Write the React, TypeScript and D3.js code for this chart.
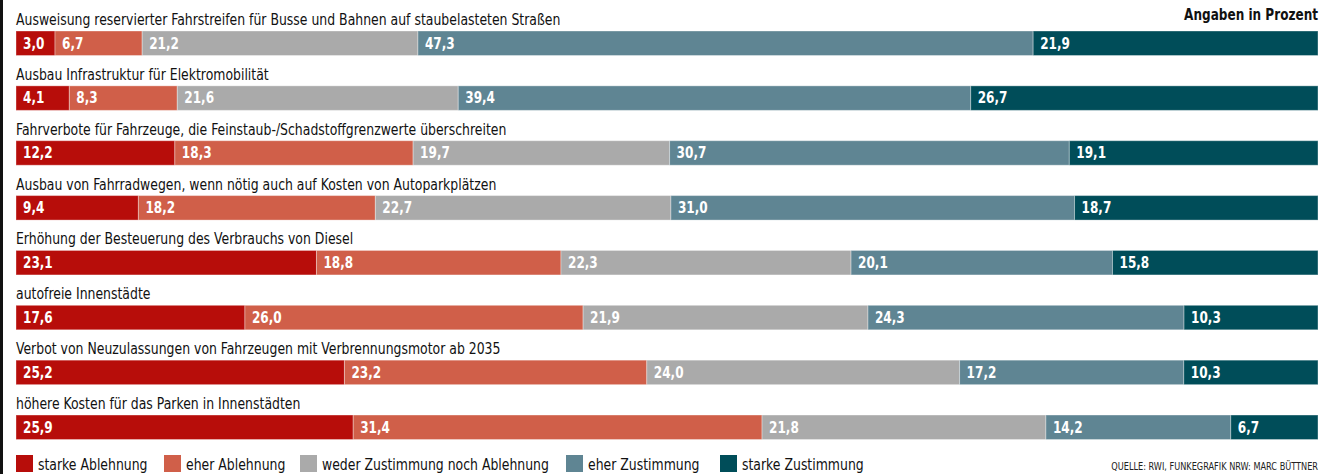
import React from "react";
import * as d3 from "d3";

const categories = [
  "Ausweisung reservierter Fahrstreifen für Busse und Bahnen auf staubelasteten Straßen",
  "Ausbau Infrastruktur für Elektromobilität",
  "Fahrverbote für Fahrzeuge, die Feinstaub-/Schadstoffgrenzwerte überschreiten",
  "Ausbau von Fahrradwegen, wenn nötig auch auf Kosten von Autoparkplätzen",
  "Erhöhung der Besteuerung des Verbrauchs von Diesel",
  "autofreie Innenstädte",
  "Verbot von Neuzulassungen von Fahrzeugen mit Verbrennungsmotor ab 2035",
  "höhere Kosten für das Parken in Innenstädten",
];

const seriesNames = [
  "starke Ablehnung",
  "eher Ablehnung",
  "weder Zustimmung noch Ablehnung",
  "eher Zustimmung",
  "starke Zustimmung",
];

const starkeAblehnung = [3.0, 4.1, 12.2, 9.4, 23.1, 17.6, 25.2, 25.9];
const eherAblehnung = [6.7, 8.3, 18.3, 18.2, 18.8, 26.0, 23.2, 31.4];
const weder = [21.2, 21.6, 19.7, 22.7, 22.3, 21.9, 24.0, 21.8];
const eherZustimmung = [47.3, 39.4, 30.7, 31.0, 20.1, 24.3, 17.2, 14.2];
const starkeZustimmung = [21.9, 26.7, 19.1, 18.7, 15.8, 10.3, 10.3, 6.7];

const colors = ["#b70d0a", "#d05f49", "#aaaaaa", "#5f8593", "#004d59"];

const W = 1332;
const H = 474;
const FONT = "'DejaVu Sans Condensed', 'Liberation Sans Narrow', sans-serif";
const SX = 0.866;

function T(props: {
  x: number;
  y: number;
  size: number;
  bold?: boolean;
  fill?: string;
  anchor?: "start" | "end";
  children: React.ReactNode;
}) {
  const { x, y, size, bold, fill = "#111", anchor = "start", children } = props;
  return (
    <text
      transform={`translate(${x},${y}) scale(${SX},1)`}
      fontSize={size}
      fontWeight={bold ? "bold" : "normal"}
      fill={fill}
      textAnchor={anchor}
    >
      {children}
    </text>
  );
}

export default function App() {
  const series = [starkeAblehnung, eherAblehnung, weder, eherZustimmung, starkeZustimmung];
  const left = 16;
  const right = 1318;
  const y = d3
    .scaleBand<number>()
    .domain(d3.range(categories.length))
    .range([31, 31 + 54.86 * categories.length])
    .paddingInner(0)
    .paddingOuter(0);
  const barH = 24.5;

  const legendX = [16, 164, 300, 566, 720];

  return (
    <div style={{ position: "absolute", left: 0, top: 0, width: W, height: H, background: "#fff" }}>
      <svg width={W} height={H} style={{ display: "block" }} fontFamily={FONT}>
        <rect x={0} y={0} width={W} height={H} fill="#fff" />
        <line x1={1.5} x2={1.5} y1={0} y2={H} stroke="#111" strokeWidth={3} />
        <T x={right} y={20} size={15.5} bold anchor="end">
          Angaben in Prozent
        </T>
        {categories.map((cat, i) => {
          const vals = series.map((s) => s[i]);
          const total = d3.sum(vals);
          const x = d3.scaleLinear().domain([0, total]).range([left, right]);
          const cums = d3.cumsum([0, ...vals]);
          const by = y(i)!;
          return (
            <g key={i}>
              <T x={left} y={by - 6} size={16}>
                {cat}
              </T>
              {vals.map((v, j) => (
                <g key={j}>
                  <rect
                    x={x(cums[j])}
                    y={by}
                    width={x(cums[j] + v) - x(cums[j])}
                    height={barH}
                    fill={colors[j]}
                    stroke="rgba(255,255,255,0.35)"
                    strokeWidth={1}
                  />
                  <T x={x(cums[j]) + 7} y={by + 17.5} size={15.5} bold fill="#fff">
                    {d3.format(".1f")(v).replace(".", ",")}
                  </T>
                </g>
              ))}
            </g>
          );
        })}
        {seriesNames.map((name, j) => (
          <g key={j}>
            <rect x={legendX[j]} y={455} width={17} height={17} fill={colors[j]} />
            <T x={legendX[j] + 22} y={470} size={16}>
              {name}
            </T>
          </g>
        ))}
        <T x={right} y={470} size={10.5} anchor="end" fill="#222">
          QUELLE: RWI, FUNKEGRAFIK NRW: MARC BÜTTNER
        </T>
      </svg>
    </div>
  );
}
